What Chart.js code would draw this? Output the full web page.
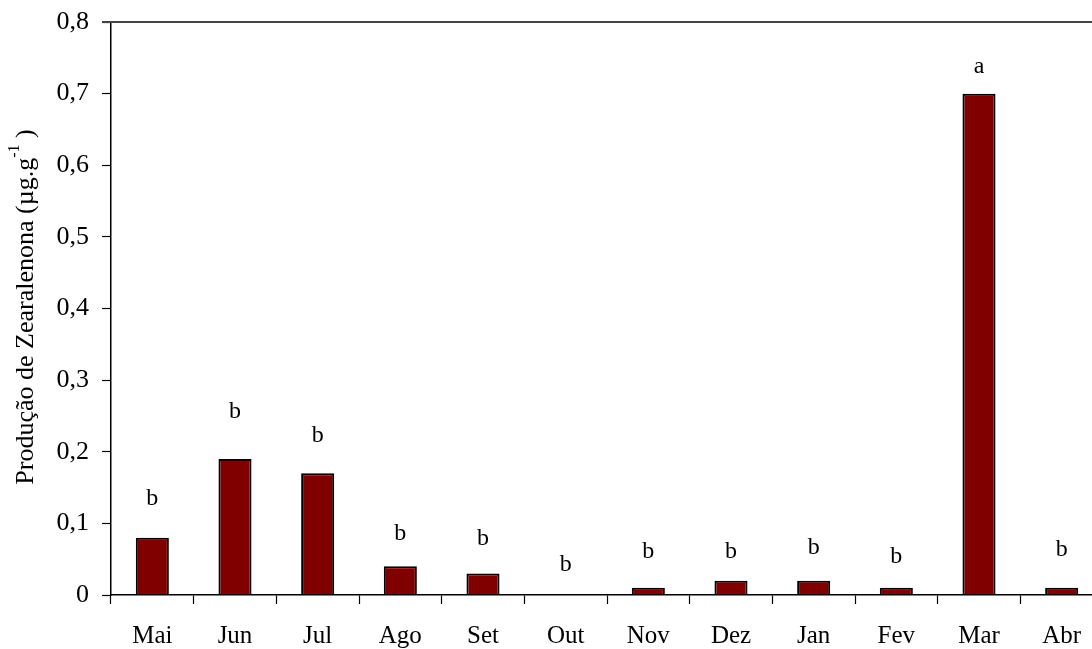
<!DOCTYPE html>
<html>
<head>
<meta charset="utf-8">
<script src="https://cdn.jsdelivr.net/npm/chart.js@4"></script>
<style>
  html, body { margin: 0; padding: 0; background: #fff; overflow: hidden; }
  #wrap { width: 1110px; height: 649px; }
</style>
</head>
<body>
<div id="wrap"><canvas id="zeaChart" width="1110" height="649"></canvas></div>
<script>
// meses da coleta
const months = ['Mai', 'Jun', 'Jul', 'Ago', 'Set', 'Out', 'Nov', 'Dez', 'Jan', 'Fev', 'Mar', 'Abr'];
// produção de zearalenona (µg/g)
const production = [0.08, 0.19, 0.17, 0.04, 0.03, 0.0, 0.01, 0.02, 0.02, 0.01, 0.70, 0.01];
// letras do teste de médias e a altura (em µg/g) onde aparecem
const letters = ['b', 'b', 'b', 'b', 'b', 'b', 'b', 'b', 'b', 'b', 'a', 'b'];
const letterHeights = [0.134, 0.256, 0.223, 0.085, 0.078, 0.042, 0.061, 0.061, 0.066, 0.053, 0.737, 0.063];
const yTicks = [0, 0.1, 0.2, 0.3, 0.4, 0.5, 0.6, 0.7, 0.8];

const FONT = '"Liberation Serif", "Times New Roman", serif';

// letras acima das barras + linha superior + título do eixo Y
const extras = {
    id: 'extras',
    afterDatasetsDraw(chart) {
        const c = chart.ctx;
        const xs = chart.scales.x;
        const ys = chart.scales.y;
        c.save();
        c.fillStyle = '#000';
        c.font = '24px ' + FONT;
        c.textAlign = 'center';
        c.textBaseline = 'middle';
        letters.forEach((l, i) => {
            c.fillText(l, xs.getPixelForValue(i), ys.getPixelForValue(letterHeights[i]));
        });
        c.restore();
    },
    afterDraw(chart) {
        const c = chart.ctx;
        const area = chart.chartArea;
        c.save();
        c.strokeStyle = '#444';
        c.lineWidth = 2;
        c.beginPath();
        c.moveTo(area.left - 9, area.top);
        c.lineTo(area.right, area.top);
        c.stroke();

        // título do eixo Y, com sobrescrito
        c.translate(26, 307);
        c.rotate(-Math.PI / 2);
        c.fillStyle = '#000';
        c.textBaseline = 'middle';
        const main = 'Produção de Zearalenona (µg.g';
        const sup = '-1';
        const end = ' )';
        c.font = '26px ' + FONT;
        const wMain = c.measureText(main).width;
        const wEnd = c.measureText(end).width;
        c.font = '16px ' + FONT;
        const wSup = c.measureText(sup).width;
        let x = -(wMain + wSup + wEnd) / 2;
        c.font = '26px ' + FONT;
        c.textAlign = 'left';
        c.fillText(main, x, 0);
        x += wMain;
        c.font = '16px ' + FONT;
        c.fillText(sup, x, -11);
        x += wSup;
        c.font = '26px ' + FONT;
        c.fillText(end, x, 0);
        c.restore();
    }
};

const ctx = document.getElementById('zeaChart').getContext('2d');
new Chart(ctx, {
    type: 'bar',
    data: {
        labels: months,
        datasets: [{
            data: production,
            backgroundColor: '#800000',
            borderColor: '#000',
            borderWidth: 2,
            categoryPercentage: 1.0,
            barPercentage: 0.4
        }]
    },
    plugins: [extras],
    options: {
        responsive: false,
        animation: false,
        layout: { padding: { left: 0, top: 22, right: 7, bottom: 0 } },
        plugins: {
            legend: { display: false },
            tooltip: { enabled: false }
        },
        scales: {
            x: {
                afterFit(scale) {
                    scale.height = 54;
                    scale.paddingLeft = 0;
                    scale.paddingRight = 0;
                },
                border: { display: true, color: '#000', width: 1.5 },
                grid: {
                    offset: true,
                    drawOnChartArea: false,
                    drawTicks: true,
                    tickLength: 9,
                    color: '#000',
                    tickColor: '#000',
                    tickWidth: 1.2
                },
                ticks: {
                    color: '#000',
                    padding: 17,
                    maxRotation: 0,
                    font: { family: FONT, size: 25 }
                }
            },
            y: {
                min: 0,
                max: 0.8,
                afterFit(scale) {
                    scale.width = 111;
                    scale.paddingTop = 0;
                    scale.paddingBottom = 0;
                },
                afterBuildTicks(scale) {
                    scale.ticks = yTicks.map(v => ({ value: v }));
                },
                border: { display: true, color: '#000', width: 1.5 },
                grid: {
                    drawOnChartArea: false,
                    drawTicks: true,
                    tickLength: 9,
                    color: '#000',
                    tickColor: '#000',
                    tickWidth: 1.2
                },
                ticks: {
                    color: '#000',
                    padding: 13,
                    font: { family: FONT, size: 26 },
                    callback: v => v === 0 ? '0' : v.toFixed(1).replace('.', ',')
                }
            }
        }
    }
});
</script>
</body>
</html>
